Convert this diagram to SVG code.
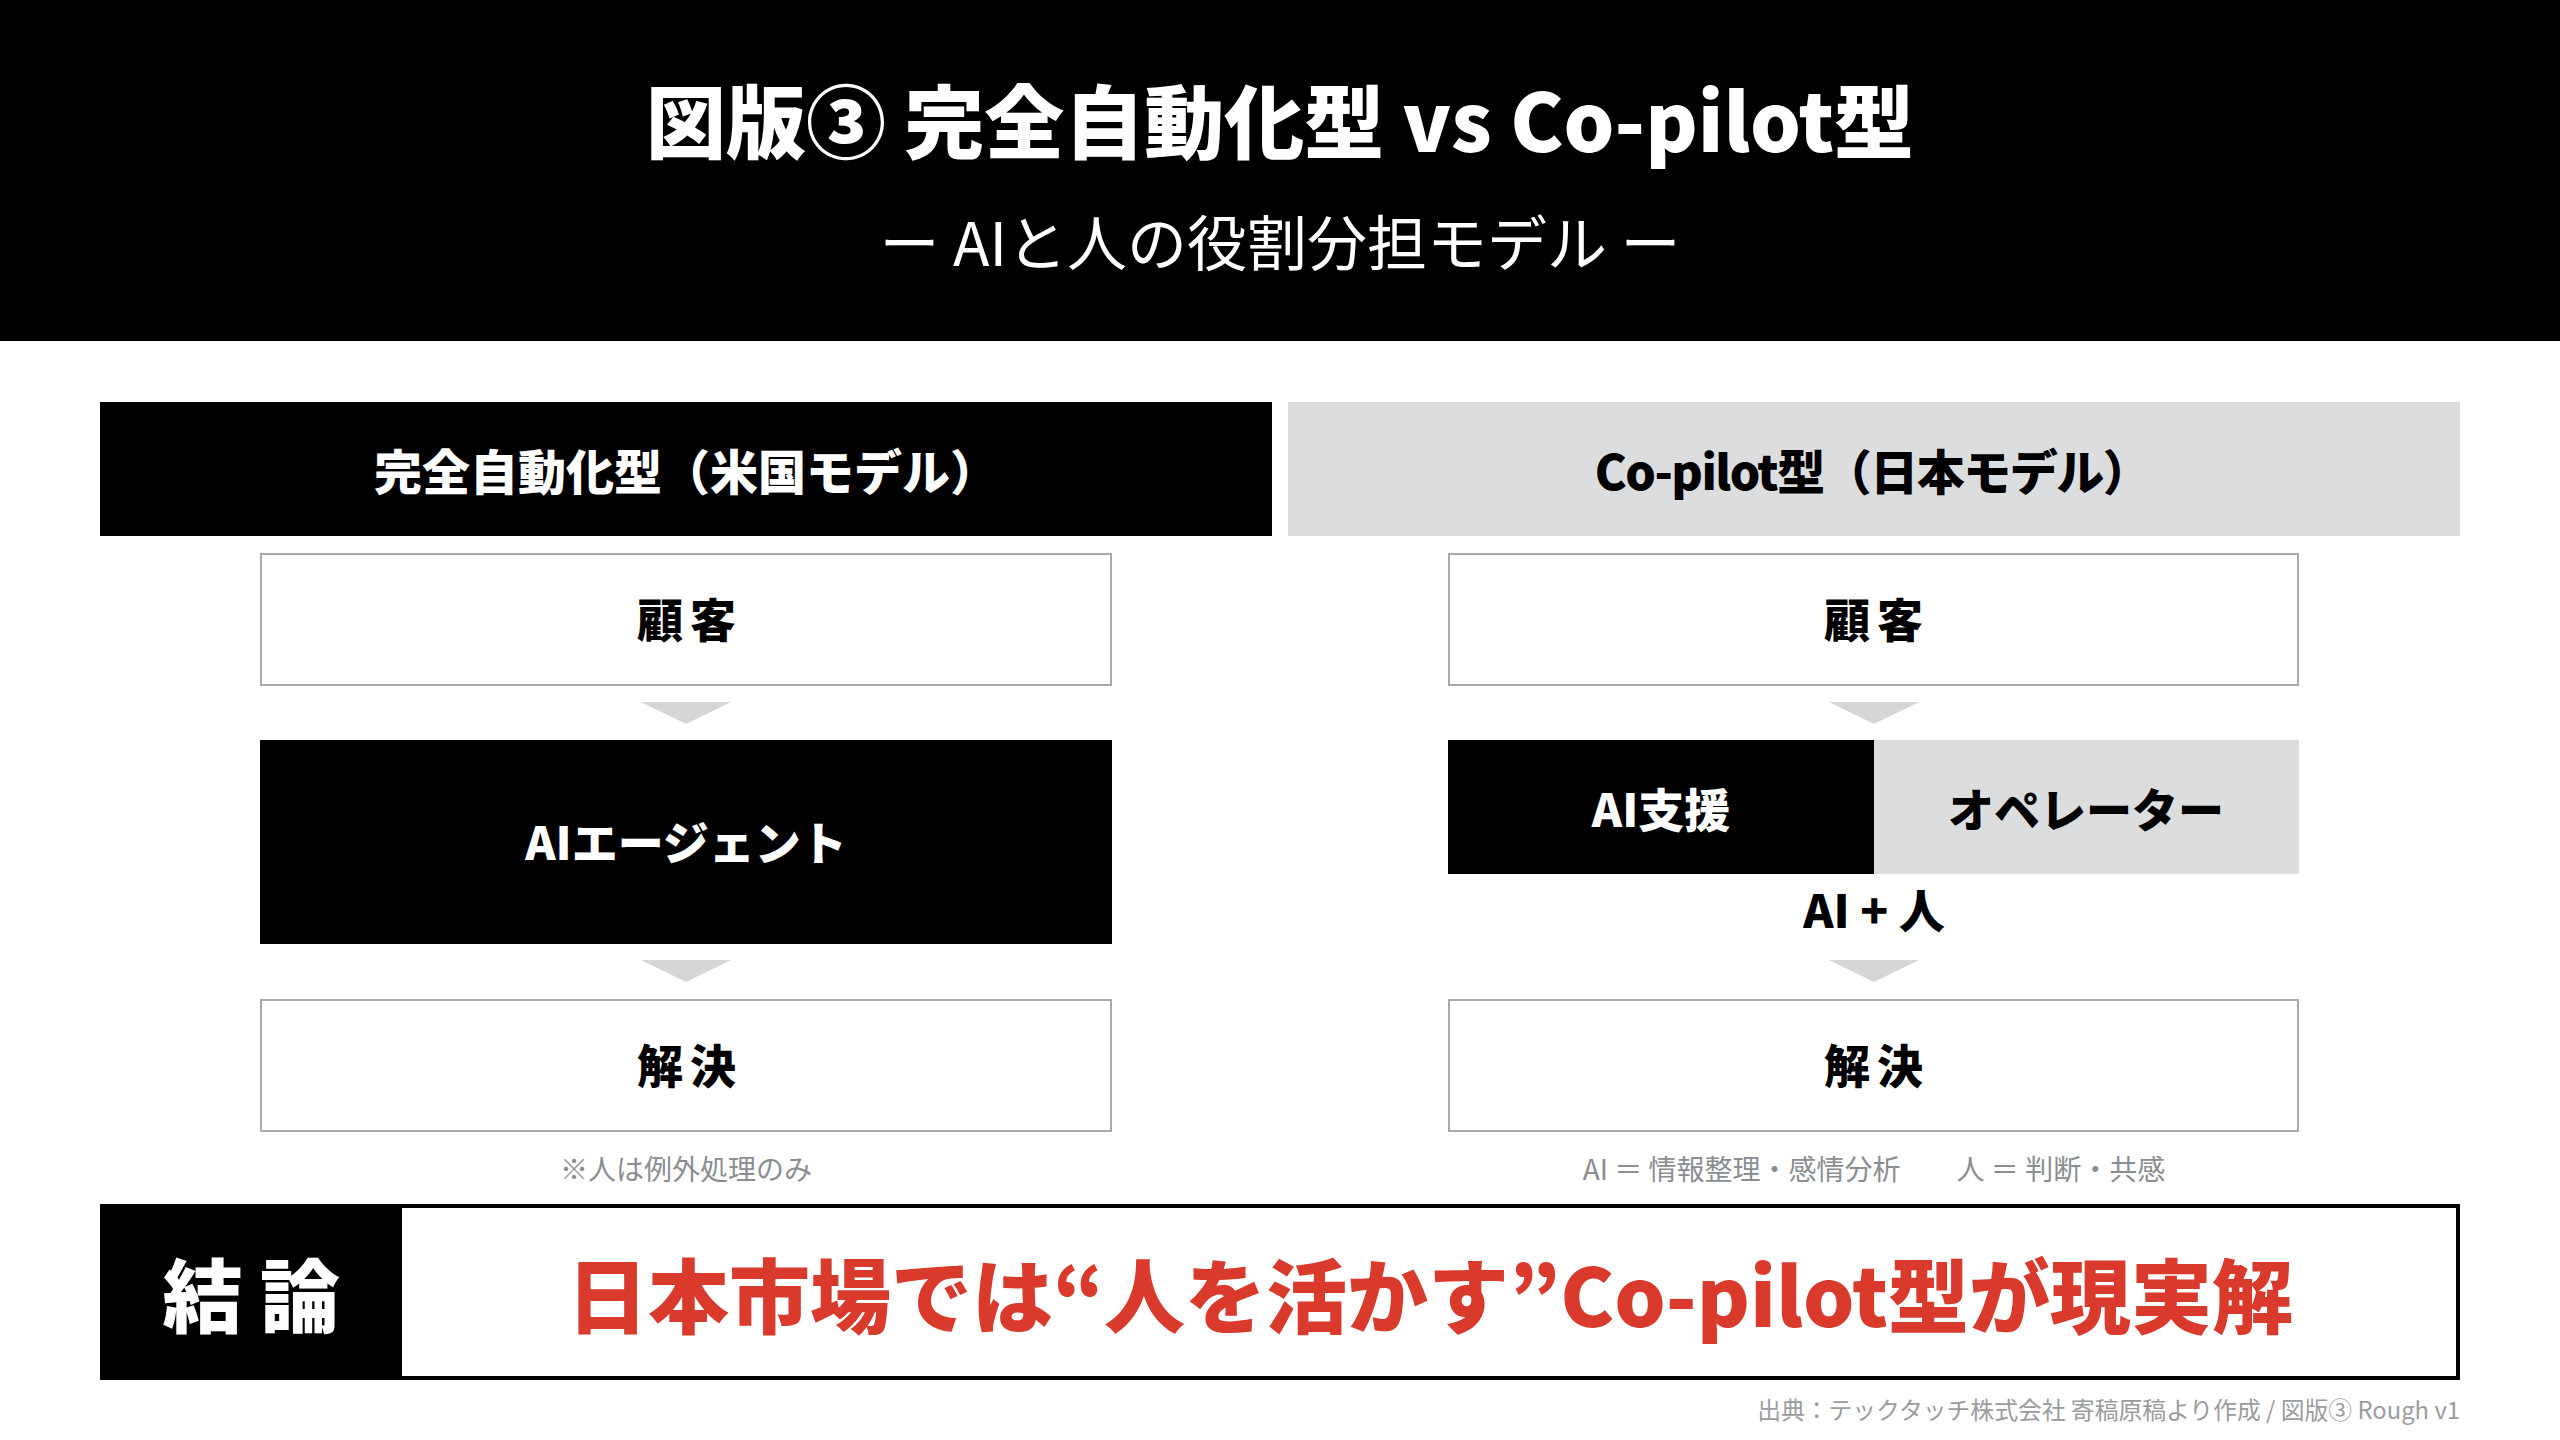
<svg xmlns="http://www.w3.org/2000/svg" width="2560" height="1440" viewBox="0 0 2560 1440">
<style>
text { font-family: "Noto Sans CJK JP", "Noto Sans", sans-serif; text-anchor: middle; }
.title { font-size: 80px; font-weight: 900; fill: #ffffff; }
.sub { font-size: 60px; font-weight: 400; fill: #ffffff; }
.colh { font-size: 48px; font-weight: 900; }
.lbl { font-size: 46px; font-weight: 900; fill: #000000; }
.wide { letter-spacing: 0.15em; }
.cap { font-size: 28px; font-weight: 400; fill: #8A8D91; }
.foot { font-size: 23.8px; font-weight: 400; fill: #9A9CA0; text-anchor: end; }
.concl { font-size: 81px; font-weight: 900; fill: #D93A2C; }
.box { fill: #ffffff; stroke: #A8AAAD; stroke-width: 2; }
.dark { fill: #000000; }
.light { fill: #DCDDDF; }
.arrow { fill: #D6D6D6; }
</style>
<rect width="2560" height="1440" fill="#ffffff"/>

<g id="header">
  <rect x="0" y="0" width="2560" height="341" fill="#000000"/>
  <text class="title" x="1280" y="152">図版③ 完全自動化型 vs Co-pilot型</text>
  <text class="sub" x="1280" y="266">ー AIと人の役割分担モデル ー</text>
</g>

<g id="col-left-header">
  <rect class="dark" x="100" y="402" width="1172" height="134"/>
  <text class="colh" x="686" y="490" style="fill:#ffffff">完全自動化型（米国モデル）</text>
</g>
<g id="col-right-header">
  <rect class="light" x="1288" y="402" width="1172" height="134"/>
  <text class="colh" x="1872" y="490" style="fill:#000000;letter-spacing:-1.5px">Co-pilot型（日本モデル）</text>
</g>

<g id="left-customer">
  <rect class="box" x="261" y="554" width="850" height="131"/>
  <text class="lbl wide" x="690" y="637">顧客</text>
</g>
<g id="left-agent">
  <rect class="dark" x="260" y="740" width="852" height="204"/>
  <text class="lbl" x="686" y="860" style="fill:#ffffff">AIエージェント</text>
</g>
<g id="left-resolve">
  <rect class="box" x="261" y="1000" width="850" height="131"/>
  <text class="lbl wide" x="690" y="1083">解決</text>
</g>
<g id="left-note">
  <text class="cap" x="686" y="1180">※人は例外処理のみ</text>
</g>

<g id="right-customer">
  <rect class="box" x="1449" y="554" width="849" height="131"/>
  <text class="lbl wide" x="1877" y="637">顧客</text>
</g>
<g id="right-ai-support">
  <rect class="dark" x="1448" y="740" width="426" height="134"/>
  <text class="lbl" x="1661" y="827" style="fill:#ffffff">AI支援</text>
</g>
<g id="right-operator">
  <rect class="light" x="1874" y="740" width="425" height="134"/>
  <text class="lbl" x="2086" y="827">オペレーター</text>
</g>
<g id="right-ai-human">
  <text class="lbl" x="1874" y="928">AI + 人</text>
</g>
<g id="right-resolve">
  <rect class="box" x="1449" y="1000" width="849" height="131"/>
  <text class="lbl wide" x="1877" y="1083">解決</text>
</g>
<g id="right-note">
  <text class="cap" x="1874" y="1180">AI ＝ 情報整理・感情分析　　人 ＝ 判断・共感</text>
</g>

<g id="connectors">
  <polygon class="arrow" points="641,702 731,702 686,724"/>
  <polygon class="arrow" points="641,960 731,960 686,982"/>
  <polygon class="arrow" points="1829,702 1919,702 1874,724"/>
  <polygon class="arrow" points="1829,960 1919,960 1874,982"/>
</g>

<g id="conclusion">
  <rect x="102" y="1206" width="2356" height="172" fill="#ffffff" stroke="#000000" stroke-width="4"/>
  <rect class="dark" x="100" y="1204" width="302" height="176"/>
  <text x="251" y="1326" style="font-size:80px;font-weight:900;fill:#ffffff;letter-spacing:0.22em" dx="9">結論</text>
  <text class="concl" x="1430" y="1327">日本市場では“人を活かす”Co-pilot型が現実解</text>
</g>

<g id="footnote">
  <text class="foot" x="2460" y="1419">出典：テックタッチ株式会社 寄稿原稿より作成 / 図版③ Rough v1</text>
</g>
</svg>
